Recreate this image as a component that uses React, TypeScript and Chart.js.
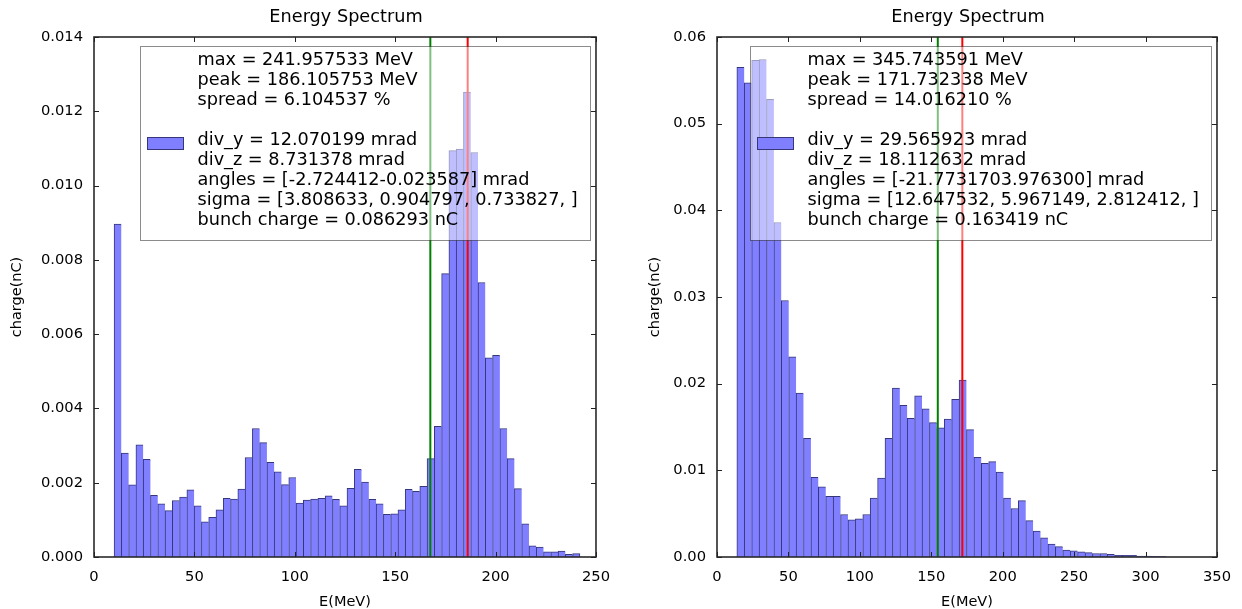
import React, { useEffect, useRef } from 'react';
import { Chart, registerables } from 'chart.js';

Chart.register(...registerables);

const FONT = '"DejaVu Sans", "Liberation Sans", sans-serif';

// ---------------- Left spectrum ----------------
const L_E_MIN = 10.0;
const L_E_MAX = 242.0;
const L_CHARGE = [
  0.00896, 0.00280, 0.00194, 0.00302, 0.00263, 0.00166, 0.00143, 0.00125,
  0.00152, 0.00161, 0.00181, 0.00138, 0.00095, 0.00107, 0.00127, 0.00158,
  0.00156, 0.00183, 0.00268, 0.00346, 0.00308, 0.00255, 0.00229, 0.00195,
  0.00214, 0.00145, 0.00153, 0.00156, 0.00158, 0.00165, 0.00155, 0.00138,
  0.00185, 0.00236, 0.00202, 0.00155, 0.00143, 0.00115, 0.00116, 0.00127,
  0.00182, 0.00177, 0.00190, 0.00265, 0.00352, 0.00763, 0.01094, 0.01098,
  0.01252, 0.01089, 0.00739, 0.00536, 0.00543, 0.00346, 0.00265, 0.00184,
  0.00089, 0.00030, 0.00027, 0.00014, 0.00014, 0.00016, 0.00007, 0.00009,
];
const L_X_TICKS = [0, 50, 100, 150, 200, 250];
const L_Y_TICKS = [0, 0.002, 0.004, 0.006, 0.008, 0.01, 0.012, 0.014];
const L_Y_LABELS = ['0.000', '0.002', '0.004', '0.006', '0.008', '0.010', '0.012', '0.014'];
const L_GREEN = 167.5;
const L_RED = 186.105753;
const L_LEGEND = [
  'max = 241.957533 MeV',
  'peak = 186.105753 MeV',
  'spread = 6.104537 %',
  '',
  'div_y = 12.070199 mrad',
  'div_z = 8.731378 mrad',
  'angles = [-2.724412-0.023587] mrad',
  'sigma = [3.808633, 0.904797, 0.733827, ]',
  'bunch charge = 0.086293 nC',
];

// ---------------- Right spectrum ----------------
const R_E_MIN = 13.9;
const R_E_MAX = 345.743591;
const R_CHARGE = [
  0.0565, 0.0547, 0.0573, 0.0574, 0.0528, 0.0386, 0.0296, 0.0231,
  0.0189, 0.0137, 0.0092, 0.0081, 0.0070, 0.0070, 0.0049, 0.0043,
  0.0044, 0.0049, 0.0068, 0.0091, 0.0137, 0.0195, 0.0175, 0.0160,
  0.0186, 0.0171, 0.0155, 0.0149, 0.0159, 0.0182, 0.0204, 0.0147,
  0.0115, 0.0108, 0.0110, 0.0098, 0.0068, 0.0056, 0.0065, 0.0042,
  0.0030, 0.0022, 0.0015, 0.0012, 0.0008, 0.0007, 0.0006, 0.0005,
  0.0004, 0.0004, 0.0003, 0.0002, 0.0002, 0.0002, 0.0001, 0.0001,
  0.00008, 0.00005, 0, 0, 0, 0, 0, 0,
];
const R_X_TICKS = [0, 50, 100, 150, 200, 250, 300, 350];
const R_Y_TICKS = [0, 0.01, 0.02, 0.03, 0.04, 0.05, 0.06];
const R_Y_LABELS = ['0.00', '0.01', '0.02', '0.03', '0.04', '0.05', '0.06'];
const R_GREEN = 154.56;
const R_RED = 171.732338;
const R_LEGEND = [
  'max = 345.743591 MeV',
  'peak = 171.732338 MeV',
  'spread = 14.016210 %',
  '',
  'div_y = 29.565923 mrad',
  'div_z = 18.112632 mrad',
  'angles = [-21.7731703.976300] mrad',
  'sigma = [12.647532, 5.967149, 2.812412, ]',
  'bunch charge = 0.163419 nC',
];

const TITLE = 'Energy Spectrum';
const X_TITLE = 'E(MeV)';
const Y_TITLE = 'charge(nC)';

const BAR_FILL = '#7f7fff';
const BAR_EDGE = '#36367a';

type Spec = {
  eMin: number;
  eMax: number;
  values: number[];
  xMax: number;
  xTicks: number[];
  yMax: number;
  yTicks: number[];
  yLabels: string[];
  green: number;
  red: number;
  legend: string[];
  yAxisWidth: number;
  yTitlePad: number;
  padRight: number;
};

function makeOverlay(spec: Spec) {
  return {
    id: 'overlay',
    afterDatasetsDraw(chart: any) {
      const { ctx, chartArea: a, scales } = chart;
      const x = scales.x;
      const y = scales.y;
      ctx.save();

      // vertical marker lines
      ctx.save();
      ctx.beginPath();
      ctx.rect(a.left, a.top, a.right - a.left, a.bottom - a.top);
      ctx.clip();
      ctx.lineWidth = 2;
      const gx = x.getPixelForValue(spec.green);
      ctx.strokeStyle = '#008000';
      ctx.beginPath();
      ctx.moveTo(gx, a.top);
      ctx.lineTo(gx, a.bottom);
      ctx.stroke();
      const rx = x.getPixelForValue(spec.red);
      ctx.strokeStyle = '#ff0000';
      ctx.beginPath();
      ctx.moveTo(rx, a.top);
      ctx.lineTo(rx, a.bottom);
      ctx.stroke();
      ctx.restore();

      // frame
      ctx.strokeStyle = '#2a2a2a';
      ctx.lineWidth = 1.6;
      ctx.strokeRect(a.left, a.top, a.right - a.left, a.bottom - a.top);

      // inward ticks
      ctx.lineWidth = 1;
      ctx.strokeStyle = '#222222';
      const TL = 5;
      ctx.beginPath();
      for (const v of spec.xTicks) {
        const px = Math.round(x.getPixelForValue(v)) + 0.5;
        ctx.moveTo(px, a.bottom);
        ctx.lineTo(px, a.bottom - TL);
        ctx.moveTo(px, a.top);
        ctx.lineTo(px, a.top + TL);
      }
      for (const v of spec.yTicks) {
        const py = Math.round(y.getPixelForValue(v)) + 0.5;
        ctx.moveTo(a.left, py);
        ctx.lineTo(a.left + TL, py);
        ctx.moveTo(a.right, py);
        ctx.lineTo(a.right - TL, py);
      }
      ctx.stroke();

      // legend
      const fs = 17.7;
      ctx.font = `${fs}px ${FONT}`;
      let maxW = 0;
      for (const s of spec.legend) maxW = Math.max(maxW, ctx.measureText(s).width);
      const right = Math.round(a.right - 6) + 0.5;
      const top = Math.round(a.top + 9) + 0.5;
      const left = Math.round(right - (maxW + 57 + 13)) + 0.5;
      const bottom = top + 194;
      ctx.fillStyle = 'rgba(255,255,255,0.5)';
      ctx.fillRect(left, top, right - left, bottom - top);
      ctx.strokeStyle = 'rgba(0,0,0,0.45)';
      ctx.lineWidth = 1;
      ctx.strokeRect(left, top, right - left, bottom - top);
      // handle patch
      ctx.fillStyle = BAR_FILL;
      ctx.fillRect(left + 7, top + 91, 36, 12);
      ctx.strokeStyle = BAR_EDGE;
      ctx.strokeRect(left + 7, top + 91, 36, 12);
      // text
      ctx.fillStyle = '#000000';
      ctx.textBaseline = 'middle';
      ctx.textAlign = 'left';
      spec.legend.forEach((s, i) => {
        if (s) ctx.fillText(s, left + 57, top + 14 + i * 20);
      });

      // title
      ctx.font = `17.7px ${FONT}`;
      ctx.textAlign = 'center';
      ctx.fillText(TITLE, (a.left + a.right) / 2 + 1, 17);

      ctx.restore();
    },
  };
}

function Spectrum({ spec }: { spec: Spec }) {
  const ref = useRef<HTMLCanvasElement | null>(null);
  useEffect(() => {
    if (!ref.current) return;
    const n = spec.values.length;
    const w = (spec.eMax - spec.eMin) / n;
    const data = spec.values.map((v, i) => ({ x: spec.eMin + (i + 0.5) * w, y: v }));
    const tickFont = { family: FONT, size: 14.7 };
    const titleFont = { family: FONT, size: 14.5 };
    const chart = new Chart(ref.current, {
      type: 'bar',
      data: {
        datasets: [
          {
            data,
            backgroundColor: BAR_FILL,
            borderColor: BAR_EDGE,
            borderWidth: (c: any) => ({ top: 1, left: 1, right: c.dataIndex === n - 1 ? 1 : 0, bottom: 0 }),
            barPercentage: 1,
            categoryPercentage: 1,
          } as any,
        ],
      },
      options: {
        responsive: false,
        animation: false,
        devicePixelRatio: 1,
        events: [],
        layout: { padding: { top: 37, right: spec.padRight, bottom: 0, left: 0 } },
        plugins: { legend: { display: false }, tooltip: { enabled: false }, title: { display: false } },
        scales: {
          x: {
            type: 'linear',
            min: 0,
            max: spec.xMax,
            offset: false,
            grid: { display: false, drawTicks: false, offset: false },
            border: { display: false },
            ticks: {
              color: '#000',
              font: tickFont,
              padding: 11,
              maxRotation: 0,
              autoSkip: false,
              callback: (v: any) => String(v),
            },
            afterBuildTicks: (s: any) => {
              s.ticks = spec.xTicks.map((v) => ({ value: v }));
            },
            afterFit: (s: any) => {
              s.height = 52;
            },
            title: { display: true, text: X_TITLE, color: '#000', font: titleFont, padding: { top: 0, bottom: -1.5 } },
          },
          y: {
            type: 'linear',
            min: 0,
            max: spec.yMax,
            grid: { display: false, drawTicks: false },
            border: { display: false },
            ticks: {
              color: '#000',
              font: tickFont,
              padding: 11,
              autoSkip: false,
              callback: (_v: any, i: number) => spec.yLabels[i],
            },
            afterBuildTicks: (s: any) => {
              s.ticks = spec.yTicks.map((v) => ({ value: v }));
            },
            afterFit: (s: any) => {
              s.width = spec.yAxisWidth;
            },
            title: { display: true, text: Y_TITLE, color: '#000', font: titleFont, padding: { top: spec.yTitlePad, bottom: 0 } },
          },
        },
      } as any,
      plugins: [makeOverlay(spec)],
    });
    return () => chart.destroy();
  }, [spec]);
  return <canvas ref={ref} width={621} height={609} style={{ display: 'block', width: 621, height: 609 }} />;
}

const LEFT_SPEC: Spec = {
  eMin: L_E_MIN,
  eMax: L_E_MAX,
  values: L_CHARGE,
  xMax: 250,
  xTicks: L_X_TICKS,
  yMax: 0.014,
  yTicks: L_Y_TICKS,
  yLabels: L_Y_LABELS,
  green: L_GREEN,
  red: L_RED,
  legend: L_LEGEND,
  yAxisWidth: 94,
  yTitlePad: 8.6,
  padRight: 20,
};

const RIGHT_SPEC: Spec = {
  eMin: R_E_MIN,
  eMax: R_E_MAX,
  values: R_CHARGE,
  xMax: 350,
  xTicks: R_X_TICKS,
  yMax: 0.06,
  yTicks: R_Y_TICKS,
  yLabels: R_Y_LABELS,
  green: R_GREEN,
  red: R_RED,
  legend: R_LEGEND,
  yAxisWidth: 96,
  yTitlePad: 25.6,
  padRight: 19.5,
};

export default function App() {
  return (
    <div style={{ position: 'fixed', left: 0, top: 0, width: 1242, height: 609, background: '#fff' }}>
      <div style={{ position: 'absolute', left: 0, top: 0 }}>
        <Spectrum spec={LEFT_SPEC} />
      </div>
      <div style={{ position: 'absolute', left: 621, top: 0 }}>
        <Spectrum spec={RIGHT_SPEC} />
      </div>
    </div>
  );
}
